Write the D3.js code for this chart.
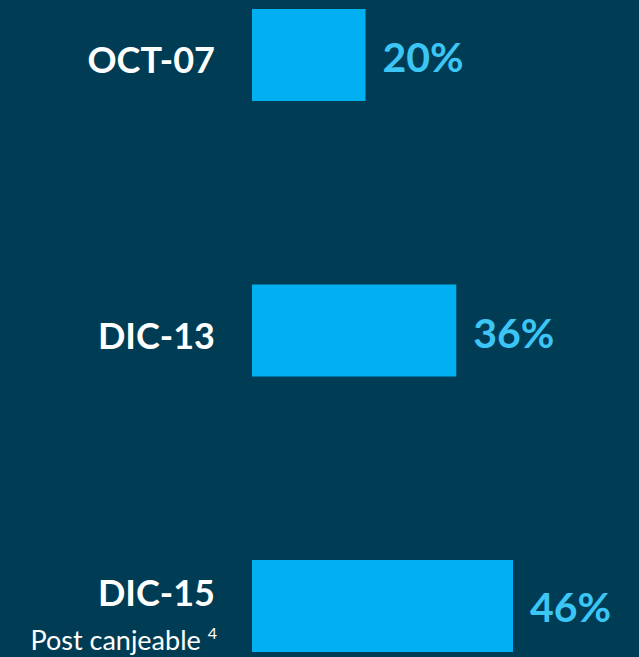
<!DOCTYPE html>
<html>
<head>
<meta charset="utf-8">
<script src="https://cdn.jsdelivr.net/npm/d3@7"></script>
<style>
  html, body { margin: 0; padding: 0; background: #003d55; }
  svg { display: block; }
</style>
</head>
<body>
<div id="chart"></div>
<script>
// Chart data
var categories = ["OCT-07", "DIC-13", "DIC-15"];
var values = [20, 36, 46];
var subLabels = ["", "", "Post canjeable"];
var subNotes = ["", "", "4"];

var svgW = 639, svgH = 657;

var svg = d3.select("#chart")
  .append("svg")
  .attr("width", svgW)
  .attr("height", svgH);

svg.append("rect")
  .attr("width", svgW)
  .attr("height", svgH)
  .attr("fill", "#003d55");

// Scales
var x = d3.scaleLinear()
  .domain([0, 46])
  .range([252, 513]);

var y = d3.scalePoint()
  .domain(categories)
  .range([55, 606]);

var barH = 92;

var rows = categories.map(function(c, i) {
  return { cat: c, value: values[i], sub: subLabels[i], note: subNotes[i] };
});

// Bars
svg.selectAll("rect.bar")
  .data(rows)
  .enter()
  .append("rect")
  .attr("class", "bar")
  .attr("x", x(0))
  .attr("y", function(d) { return y(d.cat) - barH / 2; })
  .attr("width", function(d) { return x(d.value) - x(0); })
  .attr("height", barH)
  .attr("fill", "#00b0f0");

// Category labels
svg.selectAll("text.cat")
  .data(rows)
  .enter()
  .append("text")
  .attr("class", "cat")
  .attr("x", 215)
  .attr("y", function(d) { return y(d.cat) + (d.sub ? 0 : 18); })
  .attr("text-anchor", "end")
  .attr("font-family", "Lato, 'Open Sans', sans-serif")
  .attr("font-weight", "bold")
  .attr("font-size", 36)
  .attr("fill", "#ffffff")
  .text(function(d) { return d.cat; });

// Sub labels (with superscript note)
var sub = svg.selectAll("text.sub")
  .data(rows.filter(function(d) { return d.sub; }))
  .enter()
  .append("text")
  .attr("class", "sub")
  .attr("x", 217)
  .attr("y", function(d) { return y(d.cat) + 44; })
  .attr("text-anchor", "end")
  .attr("font-family", "Lato, 'Open Sans', sans-serif")
  .attr("font-size", 27)
  .attr("fill", "#ffffff");

sub.append("tspan")
  .text(function(d) { return d.sub + " "; });

sub.append("tspan")
  .attr("font-size", 16)
  .attr("dy", -11)
  .text(function(d) { return d.note; });

// Value labels
svg.selectAll("text.val")
  .data(rows)
  .enter()
  .append("text")
  .attr("class", "val")
  .attr("x", function(d) { return x(d.value) + 17; })
  .attr("y", function(d) { return y(d.cat) + (d.sub ? 16 : 17); })
  .attr("font-family", "Lato, 'Open Sans', sans-serif")
  .attr("font-weight", "bold")
  .attr("font-size", 41)
  .attr("fill", "#3cc6f6")
  .text(function(d) { return d.value + "%"; });
</script>
</body>
</html>
